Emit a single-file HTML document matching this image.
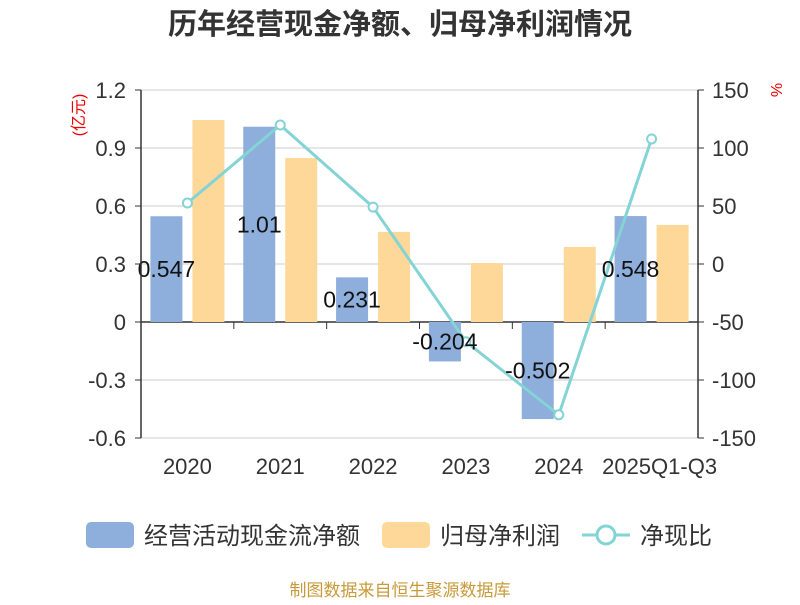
<!DOCTYPE html>
<html><head><meta charset="utf-8"><style>
body{margin:0;background:#fff;font-family:"Liberation Sans","Noto Sans CJK SC",sans-serif}
</style></head><body>
<svg id="c" width="800" height="600" xmlns="http://www.w3.org/2000/svg" font-family="Liberation Sans, Noto Sans CJK SC, sans-serif">
<text x="400" y="34" text-anchor="middle" font-size="29" font-weight="bold" fill="#333">历年经营现金净额、归母净利润情况</text>
<text transform="translate(84,115) rotate(-90)" text-anchor="middle" font-size="16" fill="#e00">(亿元)</text>
<text transform="translate(771,90) rotate(90)" text-anchor="middle" font-size="16" fill="#e00">%</text>
<g id="grid"></g><g id="bars"></g><g id="line"></g><g id="axes"></g>
<g>
<rect x="86" y="522" width="48" height="26" rx="5" fill="#8eaedb"/>
<text x="144" y="544" font-size="24" fill="#333">经营活动现金流净额</text>
<rect x="382" y="522" width="48" height="26" rx="5" fill="#fdd899"/>
<text x="440" y="544" font-size="24" fill="#333">归母净利润</text>
<line x1="582" y1="535" x2="630" y2="535" stroke="#84d3d5" stroke-width="3"/>
<circle cx="606" cy="535" r="9" fill="#fff" stroke="#84d3d5" stroke-width="3"/>
<text x="640" y="544" font-size="24" fill="#333">净现比</text>
</g>
<text x="400" y="596" text-anchor="middle" font-size="17" fill="#c89a3a">制图数据来自恒生聚源数据库</text>
</svg>
<script>
const categories=["2020","2021","2022","2023","2024","2025Q1-Q3"];
const cashflow=[0.547,1.01,0.231,-0.204,-0.502,0.548];
const cashflowLabels=["0.547","1.01","0.231","-0.204","-0.502","0.548"];
const profit=[1.045,0.848,0.466,0.305,0.388,0.502];
const ratio=[52.6,119.8,49,-67,-130,107.8];
const leftTicks=[1.2,0.9,0.6,0.3,0,-0.3,-0.6];
const leftTickLabels=["1.2","0.9","0.6","0.3","0","-0.3","-0.6"];
const rightTicks=[150,100,50,0,-50,-100,-150];
const NS="http://www.w3.org/2000/svg";
const X0=141,X1=698,Y0=90,Y1=438;
const yL=v=>Y1-(v-(-0.6))/1.8*(Y1-Y0);
const yR=v=>Y1-(v-(-150))/300*(Y1-Y0);
const band=(X1-X0)/categories.length;
const xC=i=>X0+band*(i+0.5);
function mk(tag,attrs,parent,text){const e=document.createElementNS(NS,tag);for(const k in attrs)e.setAttribute(k,attrs[k]);if(text!=null)e.textContent=text;document.getElementById(parent).appendChild(e);return e;}
leftTicks.forEach((t,i)=>{
 const g=mk('line',{x1:X0,x2:X1,y1:yL(t),y2:yL(t),stroke:t===0?'#333':'#ccc','stroke-width':t===0?1.5:1},'grid');
 
 
 const l=mk('text',{x:126,y:yL(t)+8,'text-anchor':'end','font-size':22,fill:'#333'},'axes',leftTickLabels[i]);
 
 
 const tk=mk('line',{x1:X0-6,x2:X0,y1:yL(t),y2:yL(t),stroke:'#333'},'axes');
 
 
});
rightTicks.forEach(t=>{
 const l=mk('text',{x:712,y:yR(t)+8,'font-size':22,fill:'#333'},'axes',String(t));
 
 
 const tk=mk('line',{x1:X1,x2:X1+6,y1:yR(t),y2:yR(t),stroke:'#333'},'axes');
 
 
});
const la=mk('line',{x1:X0,x2:X0,y1:Y0,y2:Y1,stroke:'#333','stroke-width':1.5},'axes');


const ra=mk('line',{x1:X1,x2:X1,y1:Y0,y2:Y1,stroke:'#333','stroke-width':1.5},'axes');


categories.forEach((c,i)=>{
 const tk=mk('line',{x1:X0+band*(i+1),x2:X0+band*(i+1),y1:yL(0),y2:yL(0)+7,stroke:'#333'},'axes');
 
 
 const l=mk('text',{x:i===categories.length-1?xC(i)+8:xC(i),y:474,'text-anchor':'middle','font-size':22,fill:'#333'},'axes',c);
 
 
 const v=cashflow[i],yt=Math.min(yL(v),yL(0)),h=Math.abs(yL(v)-yL(0));
 const b=mk('rect',{x:xC(i)-37,y:yt,width:32,height:h,fill:'#8eaedb'},'bars');
 
 
 const p=profit[i],pt=Math.min(yL(p),yL(0)),ph=Math.abs(yL(p)-yL(0));
 const b2=mk('rect',{x:xC(i)+5,y:pt,width:32,height:ph,fill:'#fdd899'},'bars');
 
 
});
const pts=ratio.map((r,i)=>xC(i)+','+yR(r)).join(' ');
const pl=mk('polyline',{points:pts,fill:'none',stroke:'#84d3d5','stroke-width':3},'line');


ratio.forEach((r,i)=>{
 const d=mk('circle',{cx:xC(i),cy:yR(r),r:4.5,fill:'#fff',stroke:'#84d3d5','stroke-width':2},'line');
 
 
});
categories.forEach((c,i)=>{
 const v=cashflow[i];
 const l=mk('text',{x:xC(i)-21,y:(yL(v)+yL(0))/2+8,'text-anchor':'middle','font-size':23,fill:'#111'},'line',cashflowLabels[i]);
 
 
});
</script>
</body></html>
